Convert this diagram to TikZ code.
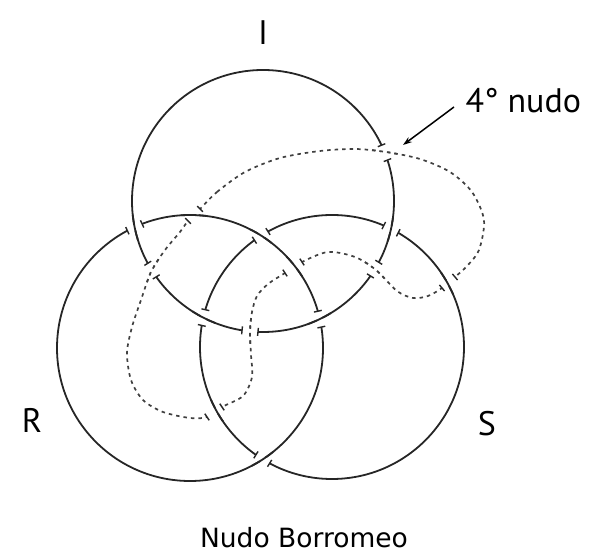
\documentclass[tikz,border=0pt]{standalone}
\usepackage{fontspec}
\setmainfont{DejaVu Sans}
\newfontfamily\rotulofont{PT Sans}
\usetikzlibrary{calc,arrows.meta}

\tikzset{
  anillo/.style={line width=1.8pt, black!85},
  cuarto/.style={line width=1.7pt, black!75, dash pattern=on 3.5pt off 4pt},
  hueco/.style={white, line width=6pt},
  marca/.style={line width=1.4pt, black!85},
  rotulo/.style={font=\rotulofont\fontsize{34}{40}\selectfont},
}

% Hilos del nudo
\newcommand{\hiloI}{\draw[anillo] (cI) circle (131);}
\newcommand{\hiloR}{\draw[anillo] (cR) circle (133);}
\newcommand{\hiloS}{\draw[anillo] (cS) circle (132);}
\newcommand{\hiloD}{\draw[cuarto] plot[smooth cycle] coordinates {
  (200,344) (217,361) (245,381) (280,395) (320,402) (355,404) (386,401)
  (420,394) (450,381) (472,361) (484,333) (479,303) (467,287) (455,276)
  (442,265) (428,257) (413,255) (397,262) (376,283) (355,296) (328,301)
  (302,291) (285,280) (268,269) (257,257) (252,241) (250,221) (251,198)
  (252,176) (243,157) (222,146) (207,136) (190,135) (163,141) (143,153)
  (131,173) (127,200) (132,226) (141,253) (151,281) (165,303) (180,321)
  (188,332)};}

% Cruce: #1 y #2 extremos del hilo de abajo, #3 hilo de arriba
\newcommand{\cruce}[3]{%
  \draw[hueco] (#1) -- (#2);
  \draw[marca] ($(#1)!4pt!90:(#2)$) -- ($(#1)!4pt!-90:(#2)$);
  \draw[marca] ($(#2)!4pt!90:(#1)$) -- ($(#2)!4pt!-90:(#1)$);
  \begin{scope}
    \clip ($(#1)!0.5!(#2)$) circle (13);
    #3
  \end{scope}}

% Cruce con un anillo abajo: #1 centro, #2 radio, #3 angulo, #4 hilo de arriba
\newcommand{\bajoanillo}[4]{%
  \coordinate (ua) at ($(#1)+({#3-3.5}:#2)$);
  \coordinate (ub) at ($(#1)+({#3+3.5}:#2)$);
  \cruce{ua}{ub}{#4}}

\begin{document}
\begin{tikzpicture}[x=1pt,y=1pt]
  \useasboundingbox (0,0) rectangle (596,553);

  % Centros de los anillos
  \coordinate (cI) at (263,352);
  \coordinate (cR) at (190,205);
  \coordinate (cS) at (332,206);

  % Anillos y cuarto nudo
  \hiloI
  \hiloR
  \hiloS
  \hiloD

  % I pasa por encima de R y de S
  \bajoanillo{cR}{133}{114.6}{\hiloI}
  \bajoanillo{cR}{133}{12.55}{\hiloI}
  \bajoanillo{cS}{132}{63.4}{\hiloI}
  \bajoanillo{cS}{132}{167.1}{\hiloI}

  % R pasa por encima de S
  \bajoanillo{cS}{132}{122.5}{\hiloR}
  \bajoanillo{cS}{132}{238.3}{\hiloR}

  % Cuarto nudo por encima de I
  \bajoanillo{cI}{131}{21.7}{\hiloD}
  \bajoanillo{cI}{131}{-31.4}{\hiloD}
  \bajoanillo{cI}{131}{264.3}{\hiloD}
  \bajoanillo{cI}{131}{211.9}{\hiloD}

  % Cuarto nudo por debajo de S y de R
  \cruce{455,276}{442,265}{\hiloS}
  \cruce{222,146}{207,136}{\hiloS}
  \cruce{285,280}{302,291}{\hiloR}
  \cruce{188,332}{200,344}{\hiloR}

  % Rotulos
  \node[rotulo] (I) at (263,520) {I};
  \node[rotulo] (R) at (32,133) {R};
  \node[rotulo] (S) at (487,129) {S};
  \node[rotulo, anchor=west] (nota) at (462,452) {4° nudo};
  \coordinate (punta) at (403,408);
  \draw[-{Stealth[length=9pt,width=6pt]}, line width=1.5pt]
    ([xshift=-8pt,yshift=-6pt]nota.west) -- (punta);

  \node[font=\fontsize{26.5}{30}\selectfont, anchor=base] (titulo) at (304,5) {Nudo Borromeo};
\end{tikzpicture}
\end{document}
